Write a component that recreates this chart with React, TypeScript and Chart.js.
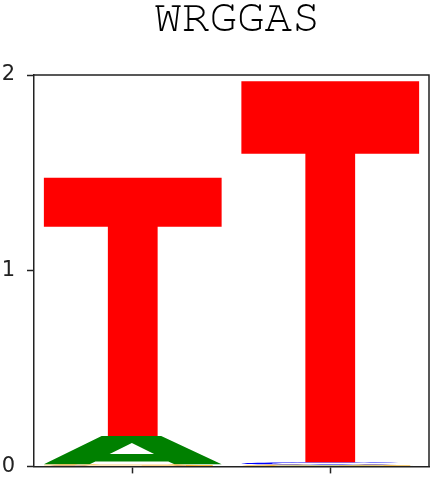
import React, { useEffect, useRef } from 'react';
import { Chart, registerables } from 'chart.js';

Chart.register(...registerables);

// ---- data ----
const TITLE = 'WRGGAS';
const POSITIONS = [0, 1];
const LETTERS = ['A', 'C', 'G', 'T'];
const A_HEIGHTS = [0.144, 0.003];
const C_HEIGHTS = [0.003, 0.012];
const G_HEIGHTS = [0.008, 0.006];
const T_HEIGHTS = [1.32, 1.947];
const X_TICKS = [0, 1];
const Y_TICKS = [0, 1, 2];

const HEIGHTS: Record<string, number[]> = { A: A_HEIGHTS, C: C_HEIGHTS, G: G_HEIGHTS, T: T_HEIGHTS };
const LETTER_COLORS: Record<string, string> = { A: '#008000', C: '#0000ff', G: '#ffa500', T: '#ff0000' };
const AXIS_COLOR = '#222222';

// stack letters at each position: smallest at the bottom
function buildStacks() {
  const ranges: Record<string, [number, number][]> = { A: [], C: [], G: [], T: [] };
  POSITIONS.forEach((_, j) => {
    const order = [...LETTERS].sort((a, b) => HEIGHTS[a][j] - HEIGHTS[b][j]);
    let acc = 0;
    order.forEach((l) => {
      const h = HEIGHTS[l][j];
      ranges[l][j] = [acc, acc + h];
      acc += h;
    });
  });
  return ranges;
}

// ---- glyph outlines in a unit box (u: 0..1 left→right, v: 0..1 bottom→top) ----
type Poly = [number, number][];
function ring(gapDeg: number, rOut: number, rIn: number): Poly {
  const pts: Poly = [];
  const n = 40;
  const a0 = (gapDeg * Math.PI) / 180;
  const a1 = 2 * Math.PI - a0;
  for (let k = 0; k <= n; k++) {
    const a = a0 + ((a1 - a0) * k) / n;
    pts.push([0.5 + rOut * Math.cos(a), 0.5 + rOut * Math.sin(a)]);
  }
  for (let k = n; k >= 0; k--) {
    const a = a0 + ((a1 - a0) * k) / n;
    pts.push([0.5 + rIn * Math.cos(a), 0.5 + rIn * Math.sin(a)]);
  }
  return pts;
}
const GLYPHS: Record<string, Poly[][]> = {
  A: [[
    [[0, 0], [0.325, 1], [0.66, 1], [1, 0], [0.735, 0], [0.7, 0.1], [0.29, 0.1], [0.257, 0]],
    [[0.37, 0.36], [0.62, 0.36], [0.495, 0.75]],
  ]],
  T: [[
    [[0, 1], [1, 1], [1, 0.81], [0.64, 0.81], [0.64, 0], [0.36, 0], [0.36, 0.81], [0, 0.81]],
  ]],
  C: [[ring(40, 0.5, 0.33)]],
  G: [[ring(40, 0.5, 0.33)], [[[0.55, 0.48], [0.95, 0.48], [0.95, 0.05], [0.8, 0.05], [0.8, 0.34], [0.55, 0.34]]]],
};

const logoPlugin = {
  id: 'logoGlyphs',
  afterDatasetsDraw(chart: any) {
    const ctx = chart.ctx as CanvasRenderingContext2D;
    chart.data.datasets.forEach((ds: any, i: number) => {
      const meta = chart.getDatasetMeta(i);
      const letter = ds.label as string;
      meta.data.forEach((bar: any) => {
        const { x, y, base, width } = bar.getProps(['x', 'y', 'base', 'width'], true);
        const left = x - width / 2;
        const h = base - y;
        if (h <= 0) return;
        ctx.save();
        ctx.fillStyle = LETTER_COLORS[letter];
        for (const part of GLYPHS[letter]) {
          ctx.beginPath();
          for (const poly of part) {
            poly.forEach(([u, v], k) => {
              const px = left + u * width;
              const py = base - v * h;
              if (k === 0) ctx.moveTo(px, py);
              else ctx.lineTo(px, py);
            });
            ctx.closePath();
          }
          ctx.fill('evenodd');
        }
        ctx.restore();
      });
    });
  },
  afterDraw(chart: any) {
    const ctx = chart.ctx as CanvasRenderingContext2D;
    const { left, right, top, bottom } = chart.chartArea;
    ctx.save();
    ctx.strokeStyle = AXIS_COLOR;
    ctx.lineWidth = 1.5;
    ctx.beginPath();
    ctx.moveTo(left, top);
    ctx.lineTo(right, top);
    ctx.lineTo(right, bottom);
    ctx.stroke();
    ctx.fillStyle = '#000';
    ctx.textAlign = 'center';
    ctx.textBaseline = 'alphabetic';
    ctx.font = "46px 'Nimbus Mono PS', 'Nimbus Mono L', FreeMono, 'Courier 10 Pitch', Courier, 'Liberation Mono', monospace";
    ctx.fillText(TITLE, 237, 31);
    ctx.restore();
  },
};

export default function App() {
  const ref = useRef<HTMLCanvasElement | null>(null);
  useEffect(() => {
    if (!ref.current) return;
    const stacks = buildStacks();
    const datasets = LETTERS.map((l) => ({
      label: l,
      data: POSITIONS.map((p, j) => ({ x: p, y: stacks[l][j] })),
      backgroundColor: 'rgba(0,0,0,0)',
      borderWidth: 0,
      grouped: false,
      barPercentage: 0.9,
      categoryPercentage: 1,
    }));
    const gridOpts = {
      display: true,
      offset: false,
      drawOnChartArea: false,
      drawTicks: true,
      tickLength: 7,
      tickColor: AXIS_COLOR,
      tickWidth: 1.5,
    };
    const chart = new Chart(ref.current, {
      type: 'bar',
      data: { datasets } as any,
      plugins: [logoPlugin],
      options: {
        animation: false,
        responsive: false,
        layout: { padding: { top: 75, right: 7, bottom: 16.5, left: 0 } },
        plugins: {
          legend: { display: false },
          tooltip: { enabled: false },
          title: { display: false },
        },
        scales: {
          x: {
            type: 'linear',
            min: -0.5,
            max: 1.5,
            offset: false,
            afterBuildTicks: (s: any) => {
              s.ticks = X_TICKS.map((v) => ({ value: v }));
            },
            afterFit: (s: any) => {
              s.height = 8;
            },
            ticks: { display: false },
            grid: gridOpts,
            border: { display: true, color: AXIS_COLOR, width: 1.5 },
          },
          y: {
            type: 'linear',
            min: 0,
            max: 2,
            afterBuildTicks: (s: any) => {
              s.ticks = Y_TICKS.map((v) => ({ value: v }));
            },
            afterFit: (s: any) => {
              s.width = 34;
            },
            ticks: {
              font: { family: 'DejaVu Sans', size: 21 },
              color: '#222',
              padding: 12,
            },
            grid: gridOpts,
            border: { display: true, color: AXIS_COLOR, width: 1.5 },
          },
        },
      } as any,
    });
    return () => chart.destroy();
  }, []);
  return (
    <div style={{ position: 'fixed', left: 0, top: 0, width: 436, height: 491, background: '#fff' }}>
      <canvas ref={ref} width={436} height={491} />
    </div>
  );
}
